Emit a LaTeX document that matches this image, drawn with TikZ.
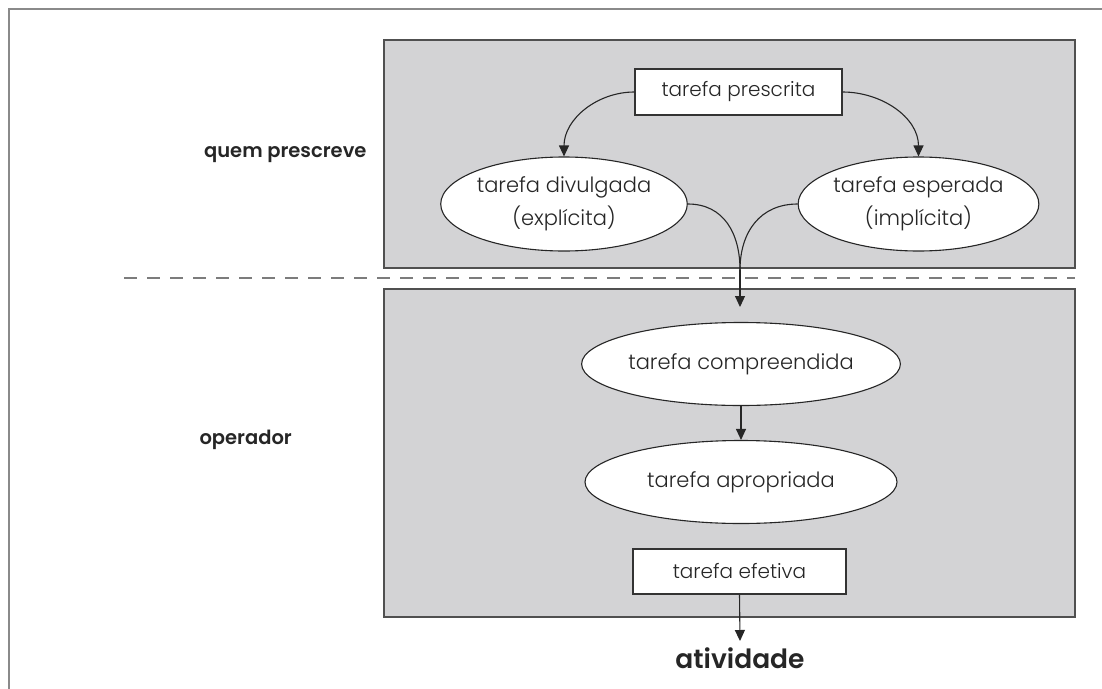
\documentclass[tikz,border=0pt]{standalone}
\usepackage{fontspec}
\setmainfont{Poppins}[UprightFont={* Light},BoldFont={* SemiBold}]
\usetikzlibrary{shapes.geometric,arrows.meta}
\definecolor{boxgray}{HTML}{D3D3D5}
\definecolor{edgegray}{HTML}{505050}
\definecolor{framegray}{HTML}{8A8A8A}
\definecolor{txt}{HTML}{262626}
\tikzset{
  x=1pt,y=-1pt,
  panel/.style={draw=edgegray,line width=1.8pt,fill=boxgray},
  rectbox/.style={draw=black!80,line width=1.1pt,fill=white,inner sep=0pt,
     font=\fontsize{20}{22}\selectfont,text=txt},
  ell/.style={ellipse,draw=black!85,line width=1.1pt,fill=white,inner sep=0pt,
     align=center,font=\fontsize{21}{33}\selectfont,text=txt},
  arr/.style={draw=black!85,line width=1.1pt,-{Triangle[width=10pt,length=11pt]}},
  conn/.style={draw=black!85,line width=1.1pt},
  side/.style={font=\bfseries\fontsize{19.5}{22}\selectfont,text=txt},
}
\begin{document}
\begin{tikzpicture}
\useasboundingbox (0,0) rectangle (1102,688);
% outer frame
\draw[framegray,line width=2.4pt] (9,700) -- (9,9) -- (1115,9);
% panels
\path[panel] (384,40) rectangle (1075,268);
\path[panel] (384,289) rectangle (1075,617);
\draw[edgegray!75,line width=1.8pt,dash pattern=on 13pt off 10pt] (124,278) -- (1075,278);
% labels
\node[side,anchor=east] (qp) at (370,155) {quem prescreve};
\node[side,anchor=west] (op) at (196,440) {operador};
% nodes
\node[rectbox,minimum width=207pt,minimum height=46pt] (pres) at (738.5,92) {tarefa prescrita};
\node[ell,minimum width=235pt,minimum height=94pt] (div) at (564,204) {tarefa divulgada\\(explícita)};
\node[ell,minimum width=237pt,minimum height=94pt] (esp) at (918.5,204) {tarefa esperada\\(implícita)};
\node[ell,minimum width=312pt,minimum height=83pt] (comp) at (741,364) {tarefa compreendida};
\node[ell,minimum width=312pt,minimum height=83pt] (apro) at (741,482) {tarefa apropriada};
\node[rectbox,minimum width=213pt,minimum height=45pt] (efet) at (739.5,571.5) {tarefa efetiva};
\node[font=\bfseries\fontsize{26.5}{28}\selectfont,text=txt,inner sep=0pt,anchor=north] (ativ) at (740,648) {atividade};
\coordinate (merge) at (740,270);
\coordinate (tip) at (740,307);
% connectors
\draw[arr] (pres.west) to[out=180,in=90] (div.north);
\draw[arr] (pres.east) to[out=0,in=90] (esp.north);
\draw[conn] (div.east) to[out=0,in=90,looseness=1.1] (merge);
\draw[conn] (esp.west) to[out=180,in=90,looseness=1.1] (merge);
\draw[arr] (merge) -- (tip);
\draw[arr] (comp.south) -- (apro.north);
\draw[arr] (efet.south) -- ([yshift=7pt]ativ.north);
\end{tikzpicture}
\end{document}
